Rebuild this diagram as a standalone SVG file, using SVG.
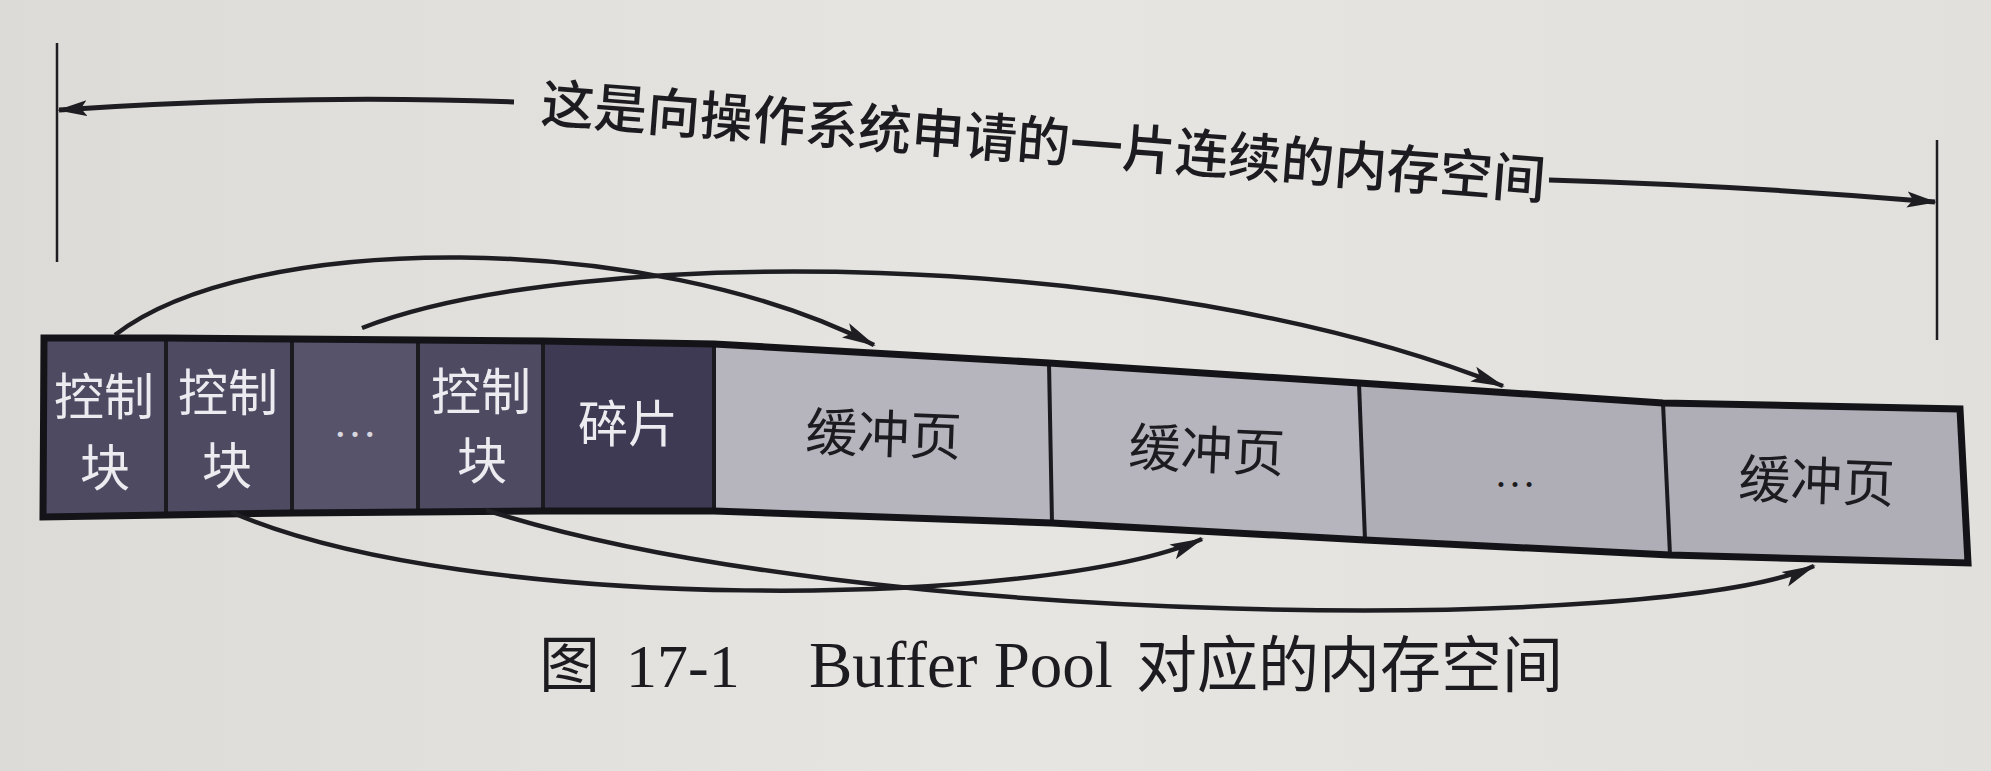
<svg xmlns="http://www.w3.org/2000/svg" width="1991" height="771" viewBox="0 0 1991 771">
<defs>
<marker id="ah" markerUnits="userSpaceOnUse" markerWidth="34" markerHeight="18" viewBox="0 0 34 18" refX="32" refY="9" orient="auto">
<path d="M0,1 L34,9 L0,17 L7,9 z" fill="#1e1d22"/>
</marker>
<marker id="ahd" markerUnits="userSpaceOnUse" markerWidth="30" markerHeight="18" viewBox="0 0 30 18" refX="28" refY="9" orient="auto">
<path d="M0,1 L30,9 L0,17 L6,9 z" fill="#1e1d22"/>
</marker>
<linearGradient id="bg" x1="0" y1="0" x2="1" y2="0">
<stop offset="0" stop-color="#dcdbd7"/>
<stop offset="0.5" stop-color="#e6e5e1"/>
<stop offset="1" stop-color="#e1e0dc"/>
</linearGradient>
<style>
.cjk{font-family:"Noto Sans CJK SC","Noto Sans",sans-serif;}
.lat{font-family:"Liberation Serif","Noto Sans CJK SC",serif;}
.wt{fill:#ecebf0;font-size:50px;}
.bk{fill:#1c1b20;font-size:52px;}
.dark1{fill:#4e4a62;}
.dark2{fill:#57536b;}
.dark3{fill:#3e3a54;}
.light{fill:#b6b4bd;}
.light2{fill:#afadb6;}
.div{stroke:#1b1a1f;stroke-width:4;fill:none;}
.con{stroke:#1e1d22;stroke-width:4.5;fill:none;}
.dim{stroke:#1e1d22;stroke-width:2.5;fill:none;}
</style>
</defs>
<rect x="0" y="0" width="1991" height="771" fill="url(#bg)"/>

<g id="dimension">
<line class="dim" x1="57" y1="43" x2="57" y2="262"/>
<line class="dim" x1="1937" y1="140" x2="1937" y2="340"/>
<path d="M514,102 Q300,94 59,110" stroke="#1e1d22" stroke-width="5" fill="none" marker-end="url(#ahd)"/>
<path d="M1549,180 Q1750,186 1935,202" stroke="#1e1d22" stroke-width="5" fill="none" marker-end="url(#ahd)"/>
<text class="cjk" x="540" y="122" font-size="53" font-weight="500" fill="#1c1b20" transform="rotate(4.4 540 122)">这是向操作系统申请的一片连续的内存空间</text>
</g>

<g id="cell-ctrl1">
<polygon class="dark1" points="44,338 166,338 166,515 43,517"/>
<text class="cjk wt" x="104" y="415" text-anchor="middle">控制</text>
<text class="cjk wt" x="105" y="486" text-anchor="middle">块</text>
</g>
<g id="cell-ctrl2">
<polygon class="dark1" points="166,338 292,339 292,513 166,515"/>
<text class="cjk wt" x="228" y="411" text-anchor="middle">控制</text>
<text class="cjk wt" x="227" y="484" text-anchor="middle">块</text>
</g>
<g id="cell-ctrl-dots">
<polygon class="dark2" points="292,339 418,340 418,512 292,513"/>
<text class="lat" x="355" y="437" font-size="44" fill="#d8d6de" text-anchor="middle">…</text>
</g>
<g id="cell-ctrl3">
<polygon class="dark1" points="418,340 543,341 543,511 418,512"/>
<text class="cjk wt" x="481" y="410" text-anchor="middle">控制</text>
<text class="cjk wt" x="482" y="479" text-anchor="middle">块</text>
</g>
<g id="cell-frag">
<polygon class="dark3" points="543,341 714,344 714,511 543,511"/>
<text class="cjk wt" x="628" y="442" text-anchor="middle">碎片</text>
</g>
<g id="cell-page1">
<polygon class="light" points="714,344 1049,363 1052,523 714,511"/>
<text class="cjk bk" x="883" y="453" text-anchor="middle" transform="rotate(2 883 453)">缓冲页</text>
</g>
<g id="cell-page2">
<polygon class="light" points="1049,363 1359,383 1365,540 1052,523"/>
<text class="cjk bk" x="1206" y="469" text-anchor="middle" transform="rotate(2.5 1206 469)">缓冲页</text>
</g>
<g id="cell-page-dots">
<polygon class="light2" points="1359,383 1663,403 1670,555 1365,540"/>
<text class="lat" x="1515" y="487" font-size="42" fill="#1c1b20" text-anchor="middle">…</text>
</g>
<g id="cell-page3">
<polygon class="light2" points="1663,403 1960,409 1968,563 1670,555"/>
<text class="cjk bk" x="1816" y="500" text-anchor="middle" transform="rotate(2 1816 500)">缓冲页</text>
</g>

<g id="strip-outline">
<line class="div" x1="166" y1="338" x2="166" y2="515"/>
<line class="div" x1="292" y1="339" x2="292" y2="513"/>
<line class="div" x1="418" y1="340" x2="418" y2="512"/>
<line class="div" x1="543" y1="341" x2="543" y2="511"/>
<line class="div" x1="714" y1="344" x2="714" y2="511"/>
<line class="div" x1="1049" y1="363" x2="1052" y2="523"/>
<line class="div" x1="1359" y1="383" x2="1365" y2="540"/>
<line class="div" x1="1663" y1="403" x2="1670" y2="555"/>
<polygon points="44,338 166,338 292,339 418,340 543,341 714,344 1049,363 1359,383 1663,403 1960,409 1968,563 1670,555 1365,540 1052,523 714,511 543,511 418,512 292,513 166,515 43,517" fill="none" stroke="#141317" stroke-width="7" stroke-linejoin="miter"/>
</g>

<g id="connectors">
<path class="con" d="M115,335 C250,230 650,230 874,345" marker-end="url(#ah)"/>
<path class="con" d="M362,328 C574,245 1150,245 1503,386" marker-end="url(#ah)"/>
<path class="con" d="M231,512 C465,615 1042,609 1202,539" marker-end="url(#ah)"/>
<path class="con" d="M486,510 C858,630 1665,634 1814,566" marker-end="url(#ah)"/>
</g>

<g id="caption">
<text x="539" y="687" font-size="61" fill="#1c1b20"><tspan class="cjk" x="539">图</tspan><tspan class="lat" x="626" font-size="62">17-1</tspan><tspan class="lat" x="809" font-size="65">Buffer Pool</tspan><tspan class="cjk" x="1136">对应的内存空间</tspan></text>
</g>
</svg>
